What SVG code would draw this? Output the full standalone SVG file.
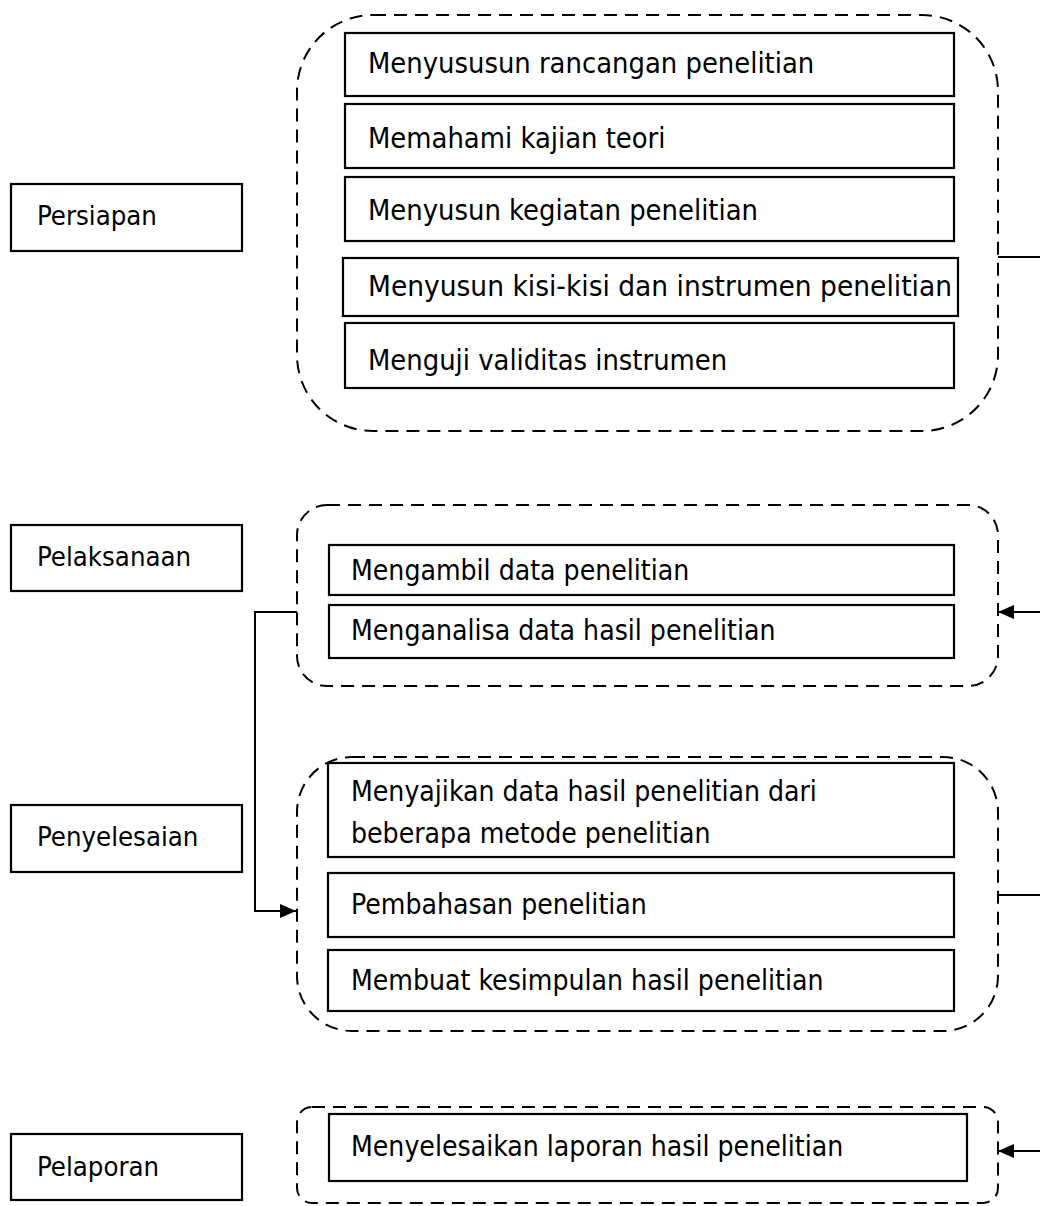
<svg xmlns="http://www.w3.org/2000/svg" width="1040" height="1206" viewBox="0 0 1040 1206">
<defs>
<style>
.box{fill:#fff;stroke:#000;stroke-width:2.2}
.grp{fill:none;stroke:#000;stroke-width:2;stroke-dasharray:13 8}
.t{font-family:"DejaVu Sans Condensed","DejaVu Sans",sans-serif;font-size:28.8px;fill:#000}
.t2{font-family:"DejaVu Sans Condensed","DejaVu Sans",sans-serif;font-size:28.1px;fill:#000}
.lt{font-family:"DejaVu Sans Condensed","DejaVu Sans",sans-serif;font-size:27.3px;fill:#000}
.ln{fill:none;stroke:#000;stroke-width:2}
</style>
<marker id="ah" markerWidth="16" markerHeight="14" refX="16" refY="7" orient="auto" markerUnits="userSpaceOnUse">
<path d="M0,0 L16,7 L0,14 z" fill="#000"/>
</marker>
<clipPath id="c1"><rect x="328" y="760" width="628" height="88"/></clipPath>
</defs>
<rect width="1040" height="1206" fill="#fff"/>

<g id="persiapan"><rect class="box" x="11" y="184" width="231" height="67"/><text class="lt" x="37" y="225">Persiapan</text></g>
<g id="pelaksanaan"><rect class="box" x="11" y="525" width="231" height="66"/><text class="lt" x="37" y="566">Pelaksanaan</text></g>
<g id="penyelesaian"><rect class="box" x="11" y="805" width="231" height="67"/><text class="lt" x="37" y="846">Penyelesaian</text></g>
<g id="pelaporan"><rect class="box" x="11" y="1134" width="231" height="66"/><text class="lt" x="37" y="1176">Pelaporan</text></g>

<g id="grp1">
<rect class="grp" x="297" y="15" width="701" height="416" rx="76" ry="76"/>
<g id="b1"><rect class="box" x="345" y="33" width="609" height="63"/><text class="t" x="368" y="73">Menyususun rancangan penelitian</text></g>
<g id="b2"><rect class="box" x="345" y="104" width="609" height="64"/><text class="t" x="368" y="148">Memahami kajian teori</text></g>
<g id="b3"><rect class="box" x="345" y="177" width="609" height="64"/><text class="t" x="368" y="220">Menyusun kegiatan penelitian</text></g>
<g id="b4"><rect class="box" x="343" y="258" width="615" height="58"/><text class="t" x="368" y="296" textLength="584" lengthAdjust="spacingAndGlyphs">Menyusun kisi-kisi dan instrumen penelitian</text></g>
<g id="b5"><rect class="box" x="345" y="323" width="609" height="65"/><text class="t" x="368" y="370">Menguji validitas instrumen</text></g>
</g>

<g id="grp2">
<rect class="grp" x="297" y="505" width="701" height="181" rx="30" ry="30"/>
<g id="b6"><rect class="box" x="329" y="545" width="625" height="50"/><text class="t2" x="351" y="580">Mengambil data penelitian</text></g>
<g id="b7"><rect class="box" x="329" y="605" width="625" height="53"/><text class="t2" x="351" y="640">Menganalisa data hasil penelitian</text></g>
</g>

<g id="grp3">
<rect class="grp" x="297" y="757" width="701" height="274" rx="55" ry="55"/>
<g id="b8"><rect class="box" x="328" y="763" width="626" height="94"/>
<g clip-path="url(#c1)"><text class="t2" x="351" y="801">Menyajikan data hasil penelitian dari</text><text class="t2" x="351" y="843">beberapa metode penelitian</text></g></g>
<g id="b9"><rect class="box" x="328" y="873" width="626" height="64"/><text class="t2" x="351" y="914">Pembahasan penelitian</text></g>
<g id="b10"><rect class="box" x="328" y="950" width="626" height="61"/><text class="t2" x="351" y="990">Membuat kesimpulan hasil penelitian</text></g>
</g>

<g id="grp4">
<rect class="grp" x="297" y="1107" width="701" height="96" rx="15" ry="15"/>
<g id="b11"><rect class="box" x="329" y="1114" width="638" height="67"/><text class="t2" x="351" y="1156">Menyelesaikan laporan hasil penelitian</text></g>
</g>

<g id="connectors">
<line class="ln" x1="998" y1="257" x2="1040" y2="257"/>
<line class="ln" x1="1040" y1="612" x2="998" y2="612" marker-end="url(#ah)"/>
<polyline class="ln" points="297,612 255,612 255,911 296,911" marker-end="url(#ah)"/>
<line class="ln" x1="998" y1="895" x2="1040" y2="895"/>
<line class="ln" x1="1040" y1="1151" x2="998" y2="1151" marker-end="url(#ah)"/>
</g>
</svg>
